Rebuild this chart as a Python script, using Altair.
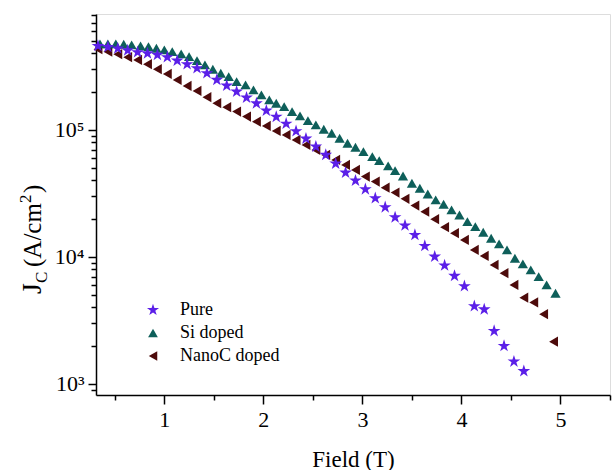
import altair as alt
import pandas as pd

# ---- data ----
pure_field = [0.33, 0.43, 0.53, 0.63, 0.73, 0.83, 0.93, 1.03, 1.13, 1.23, 1.33, 1.43, 1.53, 1.63,
              1.73, 1.83, 1.93, 2.03, 2.13, 2.23, 2.33, 2.43, 2.53, 2.63, 2.73, 2.83, 2.93, 3.03,
              3.13, 3.23, 3.33, 3.43, 3.53, 3.63, 3.73, 3.83, 3.93, 4.03, 4.13, 4.23, 4.33, 4.43,
              4.53, 4.63]
pure_jc = [458500, 450300, 438200, 422700, 409000, 400400, 389600, 373600, 351300, 329100,
           306000, 279600, 247600, 223300, 200300, 179600, 161700, 141900, 126800, 111900,
           97700, 85400, 73900, 63600, 54300, 46100, 39900, 34100, 29000, 24600,
           20500, 17700, 14900, 12200, 10050, 8570, 7090, 5880, 4090, 3860,
           2610, 1990, 1500, 1260]

si_field = [0.35, 0.43, 0.51, 0.59, 0.67, 0.76, 0.84, 0.92, 1.00, 1.08, 1.17, 1.25, 1.33, 1.41,
            1.49, 1.57, 1.65, 1.73, 1.82, 1.90, 1.98, 2.06, 2.13, 2.21, 2.29, 2.37, 2.45, 2.53,
            2.61, 2.69, 2.77, 2.85, 2.93, 3.01, 3.10, 3.17, 3.26, 3.33, 3.41, 3.50, 3.58, 3.66,
            3.74, 3.82, 3.90, 3.98, 4.06, 4.14, 4.22, 4.30, 4.38, 4.46, 4.54, 4.62, 4.70, 4.78,
            4.86, 4.95]
si_jc = [475500, 475500, 475500, 473000, 467000, 458500, 453000, 440000, 426500, 413500,
         396700, 377700, 351300, 324900, 300600, 279600, 262900, 240000, 226200, 206500,
         188600, 172300, 162300, 152600, 139400, 128900, 118400, 109500, 101300, 94200,
         86000, 78600, 73100, 67500, 61600, 57300, 52100, 47800, 43400, 38000,
         34750, 31300, 28100, 26000, 23450, 21400, 18970, 17330, 15650, 14040,
         12660, 11350, 9770, 8810, 7900, 7000, 6020, 5180]

nanoc_field = [0.33, 0.43, 0.53, 0.63, 0.73, 0.83, 0.93, 1.03, 1.13, 1.23, 1.33, 1.43, 1.53,
               1.63, 1.73, 1.83, 1.93, 2.03, 2.13, 2.23, 2.33, 2.43, 2.53, 2.63, 2.73, 2.83,
               2.93, 3.03, 3.13, 3.23, 3.33, 3.43, 3.53, 3.63, 3.73, 3.83, 3.93, 4.03, 4.13,
               4.23, 4.33, 4.43, 4.53, 4.63, 4.73, 4.83, 4.93]
nanoc_jc = [432000, 413500, 394700, 373600, 355700, 329100, 300600, 276000, 247600, 222100,
            202800, 180900, 162300, 150900, 139400, 127300, 116200, 107500, 98200, 91300,
            83400, 76200, 69600, 63600, 58000, 53000, 48400, 42900, 39200, 35100,
            32100, 28700, 25400, 22700, 19800, 17140, 15370, 13610, 11350, 10180,
            8650, 7440, 6020, 4780, 4380, 3540, 2150]

series_names = ["Pure", "Si doped", "NanoC doped"]
series_colors = ["#5B1FE8", "#0E5F5A", "#4D0B0B"]
STAR = ("M0,-1.3L0.29,-0.4L1.24,-0.4L0.47,0.15L0.76,1.05L0,0.5"
        "L-0.76,1.05L-0.47,0.15L-1.24,-0.4L-0.29,-0.4Z")
series_shapes = [STAR, "triangle-up", "triangle-left"]

x_tick_values = [0.5, 1, 1.5, 2, 2.5, 3, 3.5, 4, 4.5, 5, 5.5]
y_tick_values = [900, 1000, 2000, 3000, 4000, 5000, 6000, 7000, 8000, 9000,
                 10000, 20000, 30000, 40000, 50000, 60000, 70000, 80000, 90000,
                 100000, 200000, 300000, 400000, 500000, 600000, 700000, 800000]

# ---- table (NanoC first, Pure last so the stars sit on top) ----
rows = []
for f, j in zip(nanoc_field, nanoc_jc):
    rows.append({"field": f, "jc": j, "sample": "NanoC doped"})
for f, j in zip(si_field, si_jc):
    rows.append({"field": f, "jc": j, "sample": "Si doped"})
for f, j in zip(pure_field, pure_jc):
    rows.append({"field": f, "jc": j, "sample": "Pure"})
df = pd.DataFrame(rows)

FONT = "Liberation Serif"

legend = alt.Legend(
    title=None, orient="none", legendX=48, legendY=287, padding=0,
    labelFont=FONT, labelFontSize=18, labelColor="black", labelOffset=18,
    symbolSize=95, rowPadding=5, symbolStrokeWidth=0,
)

major_y = "datum.value == 1000 || datum.value == 10000 || datum.value == 100000"

points = alt.Chart(df).mark_point(filled=True, opacity=1, size=105).encode(
    x=alt.X("field:Q",
            scale=alt.Scale(domain=[0.31, 5.5], nice=False, zero=False),
            axis=alt.Axis(orient="bottom", values=x_tick_values, grid=False, title="Field (T)",
                          labelExpr="datum.value % 1 === 0 ? format(datum.value, 'd') : ''",
                          tickSize={"condition": {"test": "datum.value % 1 === 0", "value": 9}, "value": 5},
                          labelPadding=5, labelFont=FONT, labelFontSize=22, labelColor="black",
                          titleFont=FONT, titleFontSize=23, titleFontWeight="normal",
                          titleColor="black", titlePadding=18,
                          domainColor="black", domainWidth=1.5, tickColor="black", tickWidth=1.5)),
    y=alt.Y("jc:Q",
            scale=alt.Scale(type="log", domain=[818, 818000], nice=False),
            axis=alt.Axis(orient="left", values=y_tick_values, grid=False, title=None,
                          labelExpr="datum.value == 1000 ? '10³' : datum.value == 10000 ? '10⁴' : datum.value == 100000 ? '10⁵' : ''",
                          tickSize={"condition": {"test": major_y, "value": 8}, "value": 5},
                          labelPadding=4, labelFont=FONT, labelFontSize=22, labelColor="black",
                          domainColor="black", domainWidth=1.5, tickColor="black", tickWidth=1.5)),
    color=alt.Color("sample:N", scale=alt.Scale(domain=series_names, range=series_colors), legend=legend),
    shape=alt.Shape("sample:N", scale=alt.Scale(domain=series_names, range=series_shapes), legend=legend),
)

title_df = pd.DataFrame({"t": ["x"]})

def ytitle(text, size, x, y):
    return alt.Chart(title_df).mark_text(
        text=text, angle=270, align="left", baseline="alphabetic",
        font=FONT, fontSize=size, color="black"
    ).encode(x=alt.value(x), y=alt.value(y))

title_layers = [
    ytitle("J", 28, -55, 280),
    ytitle("C", 17, -49, 269),
    ytitle("(A/cm", 25, -55, 253),
    ytitle("2", 17, -65, 189),
    ytitle(")", 25, -55, 179),
]

chart = alt.layer(points, *title_layers).properties(
    width=514, height=381,
    autosize=alt.AutoSizeParams(type="none"),
    padding={"left": 96, "top": 14, "right": 6, "bottom": 75},
).configure_view(stroke="black", strokeWidth=1.5).configure(background="white")

chart.save("out.html", embed_options={"renderer": "svg", "actions": False})
